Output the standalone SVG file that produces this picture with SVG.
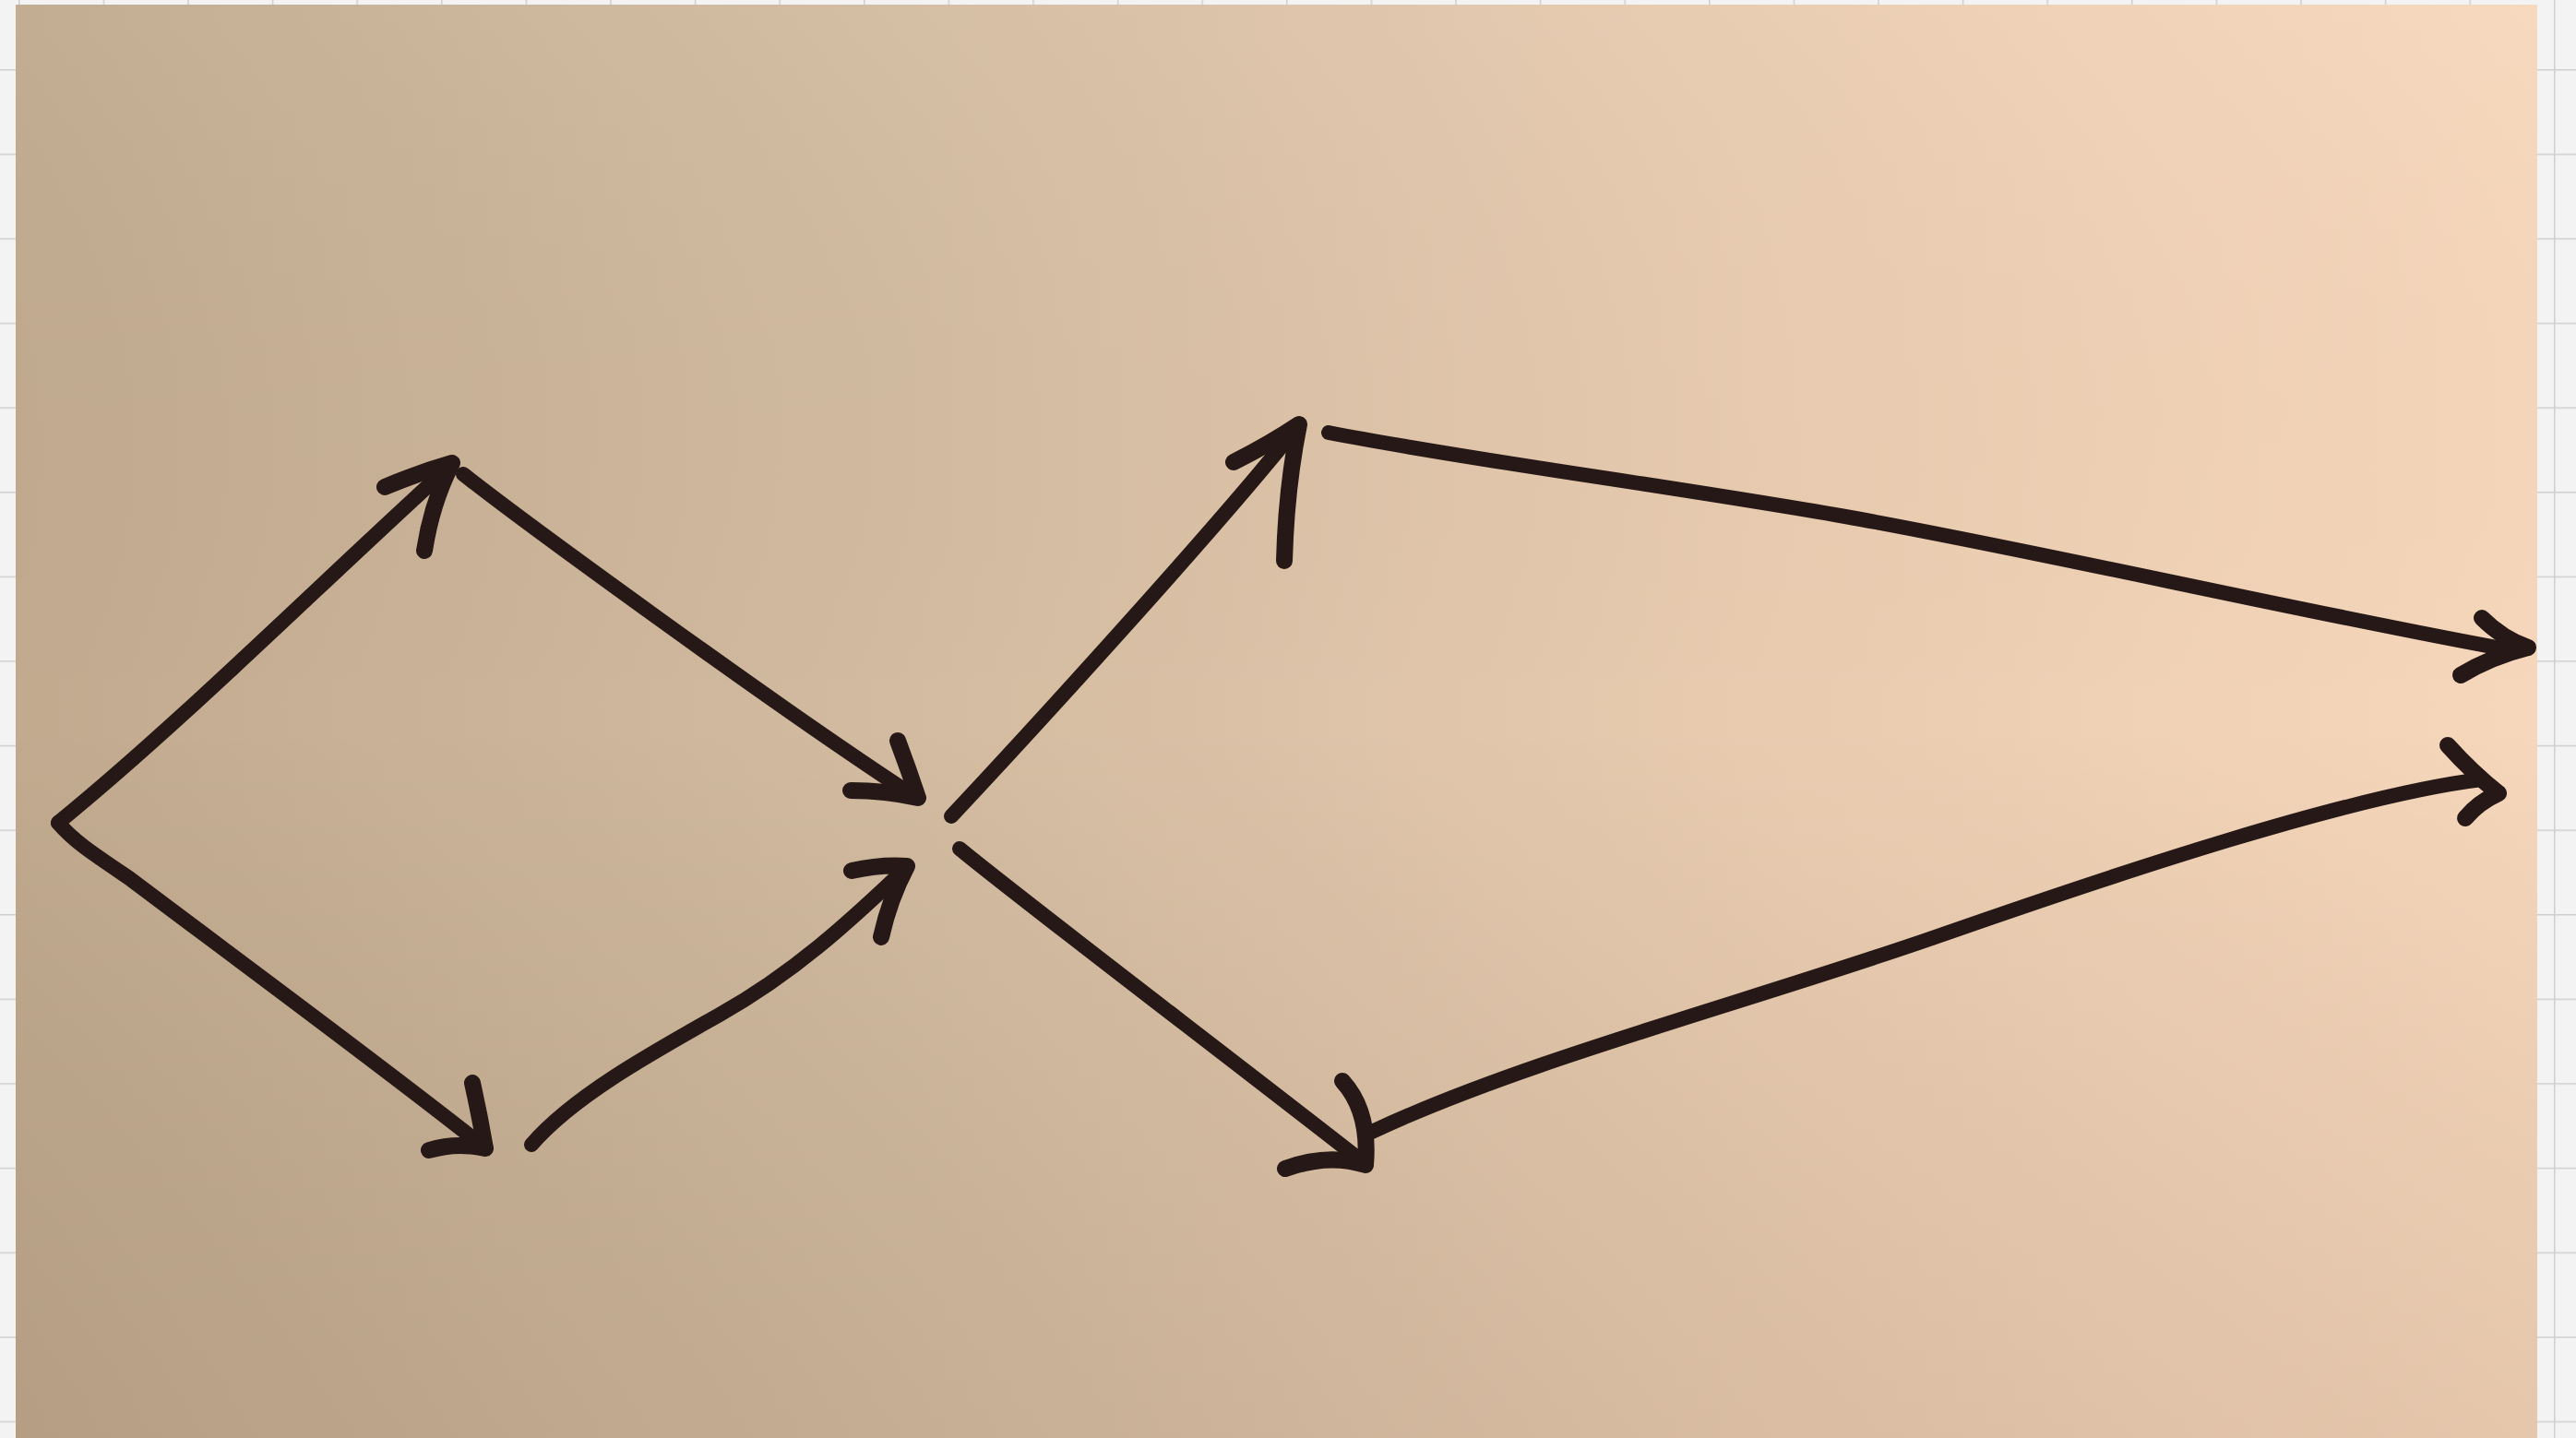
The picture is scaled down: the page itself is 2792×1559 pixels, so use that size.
<svg xmlns="http://www.w3.org/2000/svg" width="2792" height="1559" viewBox="0 0 2792 1559">
<style>
.ink{fill:none;stroke:#261816;stroke-width:16;stroke-linecap:round;stroke-linejoin:round}
.head{fill:none;stroke:#261816;stroke-width:18;stroke-linecap:round;stroke-linejoin:round}
</style>
<defs>
<pattern id="grid" x="20" y="-16.6" width="91.6" height="91.6" patternUnits="userSpaceOnUse">
<rect width="91.6" height="91.6" fill="#f3f3f3"/>
<path d="M0,0 V91.6 M0,0 H91.6" stroke="#cfcfcf" stroke-width="3" fill="none"/>
</pattern>
<linearGradient id="paperH" x1="0" y1="0" x2="1" y2="0">
<stop offset="0" stop-color="#c1aa8e"/>
<stop offset="0.35" stop-color="#d2bba0"/>
<stop offset="0.7" stop-color="#e9ccb0"/>
<stop offset="1" stop-color="#f6d7bb"/>
</linearGradient>
<linearGradient id="paperV" x1="0" y1="0" x2="0" y2="1">
<stop offset="0" stop-color="#ffffff" stop-opacity="0.04"/>
<stop offset="0.5" stop-color="#000000" stop-opacity="0"/>
<stop offset="1" stop-color="#3a2410" stop-opacity="0.09"/>
</linearGradient>
</defs>
<rect width="2792" height="1559" fill="url(#grid)"/>
<g id="paper">
<rect x="17" y="5" width="2733" height="1554" fill="url(#paperH)"/>
<rect x="17" y="5" width="2733" height="1554" fill="url(#paperV)"/>
</g>
<g id="connectors">
<g id="a1">
<path class="ink" d="M63,892 C200,780 350,630 490,503"/>
<path class="head" d="M417,528 Q455,512 490,502 M490,502 Q468,545 460,597"/>
</g>
<g id="a2">
<path class="ink" d="M502,514 C560,560 840,765 992,864"/>
<path class="head" d="M922,857 Q960,857 995,865 M973,803 Q985,835 995,865"/>
</g>
<g id="a3">
<path class="ink" d="M63,892 C80,912 100,925 140,952 C250,1035 420,1160 524,1243"/>
<path class="head" d="M465,1247 Q495,1238 526,1245 M512,1174 Q520,1210 526,1245"/>
</g>
<g id="a4">
<path class="ink" d="M576,1241 C620,1190 700,1145 780,1100 S920,1000 983,940"/>
<path class="head" d="M923,944 Q955,937 983,939 M955,1016 Q964,975 983,939"/>
</g>
<g id="a5">
<path class="ink" d="M1031,885 C1120,790 1330,560 1408,460"/>
<path class="head" d="M1337,501 Q1375,482 1408,460 M1408,460 Q1394,530 1392,608"/>
</g>
<g id="a6">
<path class="ink" d="M1040,920 C1100,970 1350,1160 1480,1262"/>
<path class="head" d="M1393,1267 Q1440,1250 1480,1263 M1455,1172 Q1485,1205 1480,1263"/>
</g>
<g id="a7">
<path class="ink" d="M1440,469 C1600,500 1800,525 2000,560 S2500,665 2728,706"/>
<path class="head" d="M2690,670 Q2712,692 2740,702 M2740,702 Q2700,712 2667,732"/>
</g>
<g id="a8">
<path class="ink" d="M1487,1227 C1650,1150 1900,1085 2100,1015 S2550,862 2690,845"/>
<path class="head" d="M2653,808 Q2680,838 2708,860 M2708,860 Q2686,870 2672,887"/>
</g>
</g>
</svg>
